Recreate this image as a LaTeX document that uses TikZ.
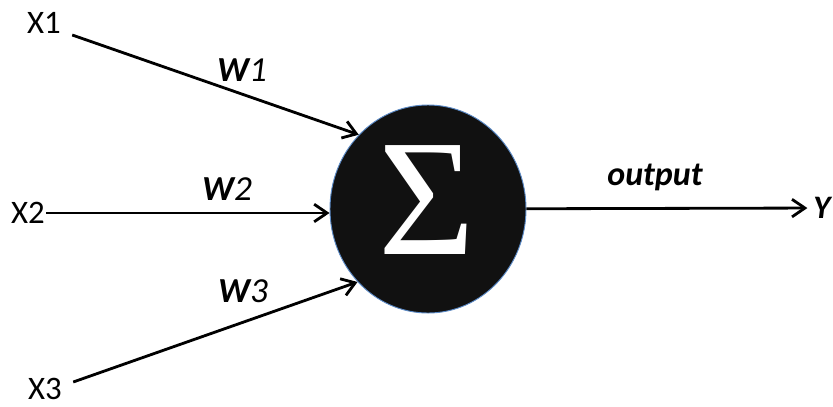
\documentclass[tikz,border=0pt]{standalone}
\usepackage{fontspec}
\setmainfont{Carlito}
\newfontfamily\sigmafont{Liberation Serif}
\usetikzlibrary{arrows.meta,shapes.geometric}
\definecolor{rimblue}{HTML}{5B8AC6}
\definecolor{sumfill}{HTML}{111111}

\begin{document}
\begin{tikzpicture}[x=0.03cm, y=-0.03cm, >={Straight Barb[length=11pt,width=15pt]}, line width=2.4pt,
  lbl/.style={font=\fontsize{28}{30}\selectfont, inner sep=0pt},
  wlbl/.style={font=\fontsize{30}{32}\selectfont\itshape, inner sep=0pt}]
  \useasboundingbox (0,0) rectangle (833,406);
  % sumador
  \node[ellipse, draw=rimblue, line width=0.8pt, fill=sumfill, minimum width=5.88cm, minimum height=6.24cm] (sum) at (428,209) {};
  \node[text=white, inner sep=0pt, font=\sigmafont\fontsize{142}{142}\selectfont] (sig) at (427,200) {Σ};
  % entradas
  \node[lbl] (x1) at (44,23) {X1};
  \node[lbl] (x2) at (28,213) {X2};
  \node[lbl] (x3) at (45,389) {X3};
  \node[wlbl, font=\fontsize{28}{30}\selectfont\bfseries\itshape, inner xsep=4pt] (y) at (822,208) {Y};
  % conexiones
  \draw[->] ([shift={(10,12)}]x1.east) -- (sum.133);
  \draw[->] (x2.east) -- (x2.east -| sum.west);
  \draw[->] ([shift={(10,-7)}]x3.east) -- (sum.226);
  \draw[->] (sum) -- (y);
  % pesos
  \node[wlbl] (w1) at (242,70) {{\bfseries W}1};
  \node[wlbl] (w2) at (227,189) {{\bfseries W}2};
  \node[wlbl] (w3) at (243,291) {{\bfseries W}3};
  \node[wlbl, font=\fontsize{29}{30}\selectfont\bfseries\itshape] (out) at (655,177) {output};
\end{tikzpicture}
\end{document}
